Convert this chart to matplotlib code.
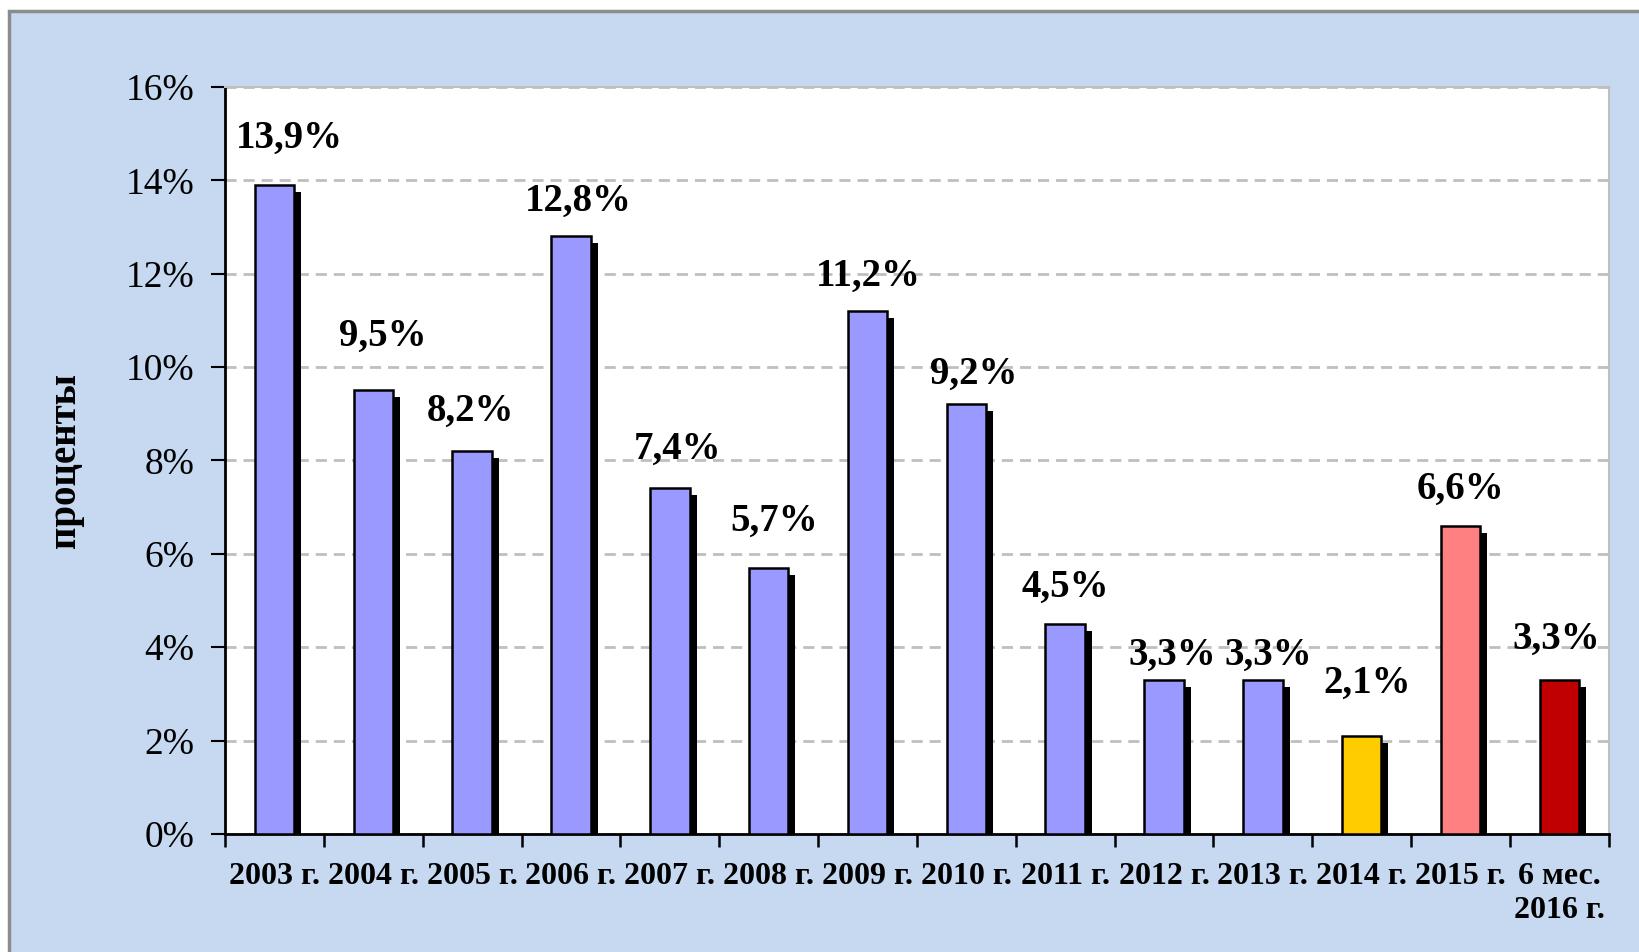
import matplotlib
matplotlib.use("Agg")
import matplotlib.pyplot as plt
import matplotlib.patheffects as pe
from matplotlib.patches import Rectangle
from matplotlib.ticker import FuncFormatter

# data
years = ["2003 г.", "2004 г.", "2005 г.", "2006 г.", "2007 г.", "2008 г.", "2009 г.",
         "2010 г.", "2011 г.", "2012 г.", "2013 г.", "2014 г.", "2015 г.", "6 мес.\n2016 г."]
values = [13.9, 9.5, 8.2, 12.8, 7.4, 5.7, 11.2, 9.2, 4.5, 3.3, 3.3, 2.1, 6.6, 3.3]
labels = ["13,9%", "9,5%", "8,2%", "12,8%", "7,4%", "5,7%", "11,2%",
          "9,2%", "4,5%", "3,3%", "3,3%", "2,1%", "6,6%", "3,3%"]

# layout: label nudges (x in categories, y in percent above bar top)
LABEL_DX = [0.15, 0.1, -0.02, 0.07, 0.08, 0.06, 0.01, 0.07, 0.0, 0.08, 0.05, 0.05, 0.0, -0.03]
LABEL_DY = [0.99, 1.15, 0.86, 0.76, 0.83, 1.0, 0.75, 0.64, 0.79, 0.53, 0.53, 1.13, 0.78, 0.87]
COLORS = ["#9999FF"] * 11 + ["#FFCC00", "#FF8080", "#C00000"]

plt.rcParams["font.family"] = ["Liberation Serif", "DejaVu Serif"]

fig = plt.figure(figsize=(16.4, 9.52), dpi=100, facecolor="white")
# light-blue chart area with grey frame (runs off the right/bottom edges)
frame = Rectangle((0.0055, -0.5), 1.5, 1.488, transform=fig.transFigure,
                  facecolor="#C6D9F1", edgecolor="#8C8C8C", lw=2.5, zorder=-10)
fig.add_artist(frame)

ax = fig.add_axes([0.1372, 0.124, 0.8438, 0.7846])
ax.set_facecolor("white")
xs = range(len(values))
bars = ax.bar(xs, values, width=0.40, color=COLORS, edgecolor="black", linewidth=1.8, zorder=3)
for b in bars:
    b.set_path_effects([pe.SimplePatchShadow(offset=(5, -5), shadow_rgbFace="black", alpha=1.0),
                        pe.Normal()])

for i, (v, t) in enumerate(zip(values, labels)):
    ax.text(i + LABEL_DX[i], v + LABEL_DY[i], t, ha="center", va="center",
            fontsize=28, fontweight="bold", zorder=5)

ax.set_xlim(-0.5, len(values) - 0.5)
ax.set_ylim(0, 16)
ax.set_yticks(range(0, 17, 2))
ax.yaxis.set_major_formatter(FuncFormatter(lambda v, p: f"{v:.0f}%"))
ax.tick_params(axis="y", labelsize=27, length=10, width=1.5, pad=12, direction="out")
ax.grid(axis="y", color="#BFBFBF", linestyle=(0, (4, 2.5)), linewidth=2)
ax.set_axisbelow(True)

ax.set_xticks([i - 0.5 for i in range(len(values) + 1)])
ax.set_xticklabels([])
ax.set_xticks(list(xs), minor=True)
ax.set_xticklabels(years, minor=True, fontsize=23, fontweight="bold", linespacing=1.25)
ax.tick_params(axis="x", which="major", length=9, width=1.8, direction="out")
ax.tick_params(axis="x", which="minor", length=0, pad=20)

for s in ("left", "bottom"):
    ax.spines[s].set_color("black")
    ax.spines[s].set_linewidth(2)
for s in ("top", "right"):
    ax.spines[s].set_color("#BFBFBF")
    ax.spines[s].set_linewidth(1.5)

ax.set_ylabel("проценты", fontsize=28, fontweight="bold", labelpad=30)

fig.savefig("out.png", dpi=100, facecolor=fig.get_facecolor())
